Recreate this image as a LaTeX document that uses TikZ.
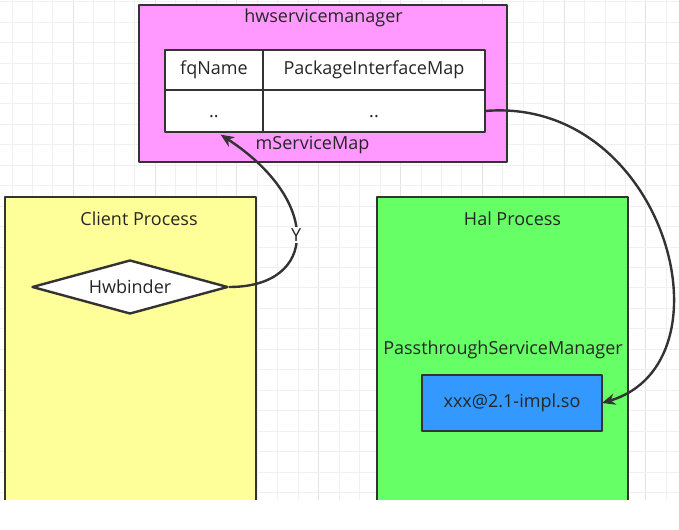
\documentclass[tikz,border=0pt]{standalone}
\usepackage{fontspec}
\setmainfont{Open Sans}
\usetikzlibrary{shapes.geometric,arrows.meta,positioning}
\definecolor{edgegray}{HTML}{333333}
\definecolor{textgray}{HTML}{262626}
\definecolor{gridminor}{HTML}{F0F0F0}
\definecolor{gridmajor}{HTML}{E3E3E3}
\definecolor{hsmpink}{HTML}{FF99FF}
\definecolor{clientyellow}{HTML}{FFFF99}
\definecolor{halgreen}{HTML}{66FF66}
\definecolor{implblue}{HTML}{3399FF}
\begin{document}
\begin{tikzpicture}[x=0.75pt,y=-0.75pt,line join=round]
  \tikzset{
    txt/.style={text=textgray,font=\fontsize{13.5}{16}\selectfont},
    box/.style={draw=edgegray,line width=1.8pt,inner sep=0pt,outer sep=0pt,txt},
    cell/.style={box,fill=white,minimum height=30pt},
    conn/.style={draw=edgegray,line width=1.8pt,-{Stealth[length=10pt,width=8.5pt]}},
  }
  \fill[white] (0,0) rectangle (679,530);
  \useasboundingbox (0,0) rectangle (679,530);
  \begin{scope}
    \clip (0,0) rectangle (679,500);
    % background grid, darker line every fourth step
    \foreach \k in {0,...,32} {
      \pgfmathtruncatemacro{\m}{mod(\k,4)}
      \ifnum\m=3 \def\gc{gridmajor}\else\def\gc{gridminor}\fi
      \draw[\gc,line width=0.75pt] ({12+20.45*\k},0) -- ({12+20.45*\k},500);
    }
    \foreach \k in {0,...,24}
      \draw[gridminor,line width=0.75pt] (0,{1.7+20.45*\k}) -- (679,{1.7+20.45*\k});

    % hwservicemanager with its map table
    \node[box,fill=hsmpink,minimum width=276pt,minimum height=117.75pt] (hsm) at (323,83.5) {};
    \node[txt] (hsmtitle) at (323.5,18) {hwservicemanager};
    \node[cell,minimum width=73.5pt] (fq) at (214,70) {fqName};
    \node[cell,minimum width=166.5pt,right=0pt of fq] (pim) {PackageInterfaceMap};
    \node[cell,minimum width=73.5pt,minimum height=31.5pt,text height=10pt,below=0pt of fq] (fqval) {..};
    \node[cell,minimum width=166.5pt,minimum height=31.5pt,text height=10pt,below=0pt of pim] (pimval) {..};
    \node[txt] (smap) at (312.5,145) {mServiceMap};

    % the two processes, cut off at the bottom
    \node[box,fill=clientyellow,minimum width=188.25pt,minimum height=242.25pt] (client) at (130.5,358.5) {};
    \node[txt] (clienttitle) at (139,219) {Client Process};
    \node[diamond,draw=edgegray,line width=1.8pt,fill=white,aspect=3.6,inner sep=0pt,
      minimum width=147pt,minimum height=40.5pt,txt] (hw) at (130,287) {Hwbinder};

    \node[box,fill=halgreen,minimum width=188.25pt,minimum height=242.25pt] (hal) at (502.5,358.5) {};
    \node[txt] (haltitle) at (512.5,219) {Hal Process};
    \node[txt] (ptsm) at (503,350) {PassthroughServiceManager};
    \node[box,fill=implblue,minimum width=135pt,minimum height=42pt] (impl) at (512,403) {xxx@2.1-impl.so};

    % connectors
    \draw[conn] (hw.east) .. controls +(90,0) and +(100,65) .. ([xshift=5pt,yshift=-2pt]fqval.south)
      node[pos=0.5,fill=white,inner sep=1pt,txt] (ylabel) {Y};
    \draw[conn] (pimval.east) .. controls +(180,-15) and +(135,-40) .. (impl.east);
  \end{scope}
\end{tikzpicture}
\end{document}
